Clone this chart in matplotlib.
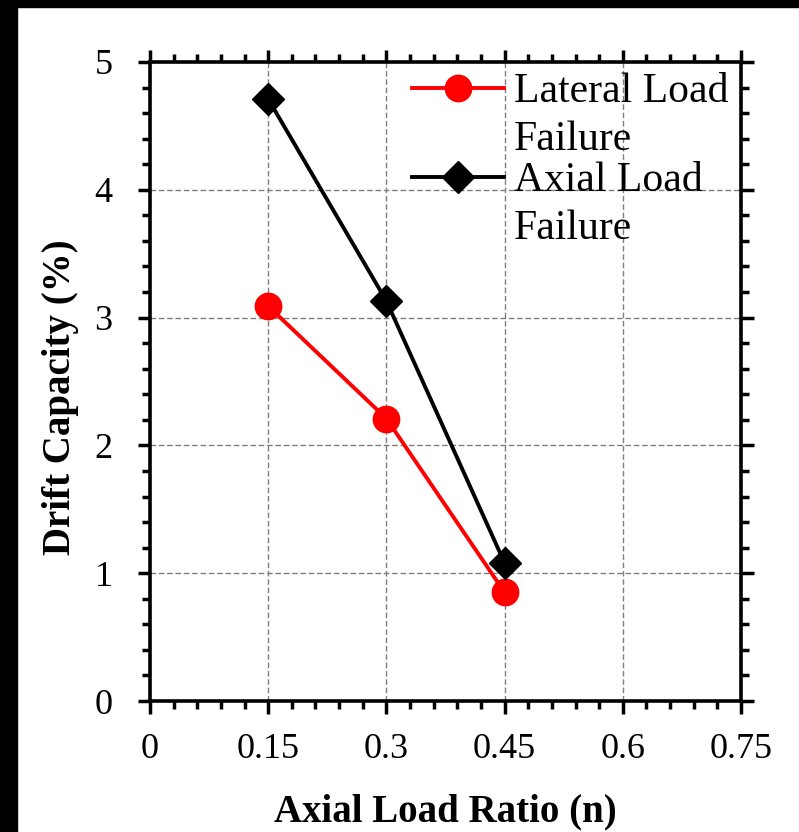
import numpy as np
import matplotlib.pyplot as plt
from matplotlib.patches import Rectangle
from matplotlib.ticker import MultipleLocator

# data
axial_ratio = [0.15, 0.30, 0.45]
lateral_failure = [3.09, 2.21, 0.85]
axial_failure = [4.71, 3.13, 1.08]

x_ticks = [0, 0.15, 0.3, 0.45, 0.6, 0.75]
x_tick_labels = ['0', '0.15', '0.3', '0.45', '0.6', '0.75']
y_ticks = [0, 1, 2, 3, 4, 5]

series_names = ['Lateral Load', 'Axial Load']
name_second_line = 'Failure'

plt.rcParams['font.family'] = ['Liberation Serif', 'DejaVu Serif']

W, H = 799, 832
fig = plt.figure(figsize=(W / 100, H / 100), dpi=100)
ax_l, ax_r, ax_t, ax_b = 150, 741, 62, 701
ax = fig.add_axes([ax_l / W, 1 - ax_b / H, (ax_r - ax_l) / W, (ax_b - ax_t) / H])

# black frame strips on the left and top of the original screenshot
fig.patches.append(Rectangle((0, 0), 17 / W, 1, transform=fig.transFigure,
                             color='black', zorder=-1))
fig.patches.append(Rectangle((0, 1 - 7 / H), 1, 7 / H, transform=fig.transFigure,
                             color='black', zorder=-1))

ax.plot(axial_ratio, lateral_failure, color='red', lw=2.8, marker='o', ms=19,
        label=series_names[0], zorder=3)
ax.plot(axial_ratio, axial_failure, color='black', lw=2.8, marker='D', ms=16,
        label=series_names[1], zorder=3)

ax.set_xlim(0, 0.75)
ax.set_ylim(0, 5)
ax.set_xticks(x_ticks)
ax.set_xticklabels(x_tick_labels)
ax.set_yticks(y_ticks)
ax.xaxis.set_minor_locator(MultipleLocator(0.03))
ax.yaxis.set_minor_locator(MultipleLocator(0.2))

ax.tick_params(which='both', direction='out', top=True, right=True, width=2.5,
               labelsize=26)
ax.tick_params(axis='x', pad=14)
ax.tick_params(axis='y', pad=18)
ax.tick_params(which='major', length=9)
ax.tick_params(which='minor', length=6)
for s in ax.spines.values():
    s.set_linewidth(2.6)

ax.grid(True, which='major', color='#7f7f7f', linestyle=(0, (4, 2)), linewidth=1)
ax.set_axisbelow(True)

ax.set_xlabel('Axial Load Ratio (n)', fontsize=28, fontweight='bold', labelpad=20)
ax.set_ylabel('Drift Capacity (%)', fontsize=28, fontweight='bold')
ax.yaxis.set_label_coords(-0.12, 0.476)

leg = ax.legend(loc='upper right', frameon=False, fontsize=30, handlelength=2.2,
                handletextpad=0.24, borderpad=0, borderaxespad=0,
                labelspacing=1.21,
                bbox_to_anchor=(1 - 13 / (ax_r - ax_l), 1 - 11 / (ax_b - ax_t)))

# second line of each legend label, hung under the first line
for t in leg.get_texts():
    ax.annotate(name_second_line, xy=(0, 0), xycoords=t, xytext=(0, -28),
                textcoords='offset points', va='baseline', ha='left',
                fontsize=30, zorder=10, annotation_clip=False)

fig.savefig('out.png', dpi=100)
